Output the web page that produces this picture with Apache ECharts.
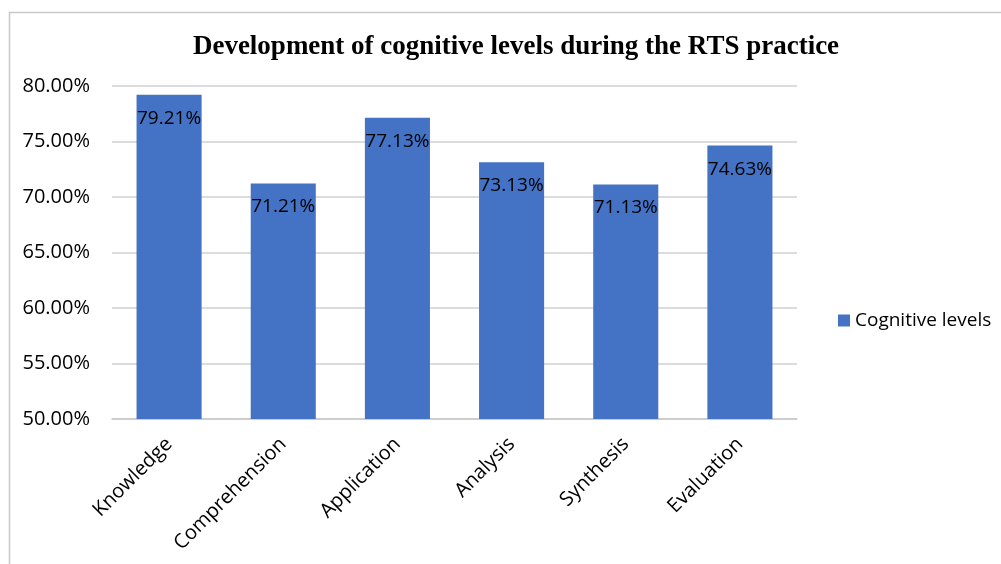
<!DOCTYPE html>
<html>
<head>
<meta charset="utf-8">
<script src="https://cdn.jsdelivr.net/npm/echarts@6/dist/echarts.min.js"></script>
<style>html,body{margin:0;padding:0;background:#fff}#c{width:1001px;height:564px}</style>
</head>
<body>
<div id="c"></div>
<script>
var categories = ['Knowledge', 'Comprehension', 'Application', 'Analysis', 'Synthesis', 'Evaluation'];
var values = [79.21, 71.21, 77.13, 73.13, 71.13, 74.63];
var seriesName = 'Cognitive levels';
var titleText = 'Development of cognitive levels during the RTS practice';

var chart = echarts.init(document.getElementById('c'), null, {renderer: 'canvas'});
var font = '"Open Sans", "Liberation Sans", sans-serif';
chart.setOption({
  animation: false,
  backgroundColor: '#fff',
  graphic: [{
    type: 'rect', shape: {x: 9.5, y: 12.5, width: 1100, height: 700},
    style: {fill: 'none', stroke: '#c8c8c8', lineWidth: 1.5}, silent: true, z: -1
  }],
  title: {
    text: titleText, left: 511, top: 29, textAlign: 'center',
    textStyle: {fontFamily: '"Liberation Serif", "Times New Roman", serif', fontWeight: 'bold', fontSize: 27, color: '#000'}
  },
  legend: {
    data: [seriesName], left: 833, top: 306, itemWidth: 12, itemHeight: 12, itemGap: 6,
    icon: 'rect',
    textStyle: {fontFamily: font, fontSize: 19, color: '#000', padding: [0, 0, 0, 0]}
  },
  grid: {left: 112, right: 204, top: 86, bottom: 145, containLabel: false},
  xAxis: {
    type: 'category', data: categories,
    axisLine: {lineStyle: {color: '#c8c8c8', width: 1.5}},
    axisTick: {show: false},
    axisLabel: {rotate: 45, margin: 22, fontFamily: font, fontSize: 20, color: '#000', interval: 0}
  },
  yAxis: {
    type: 'value', min: 50, max: 80, interval: 5,
    axisLine: {show: false}, axisTick: {show: false},
    splitLine: {lineStyle: {color: '#d0d0d0', width: 1.5}},
    axisLabel: {margin: 22, fontFamily: font, fontSize: 20, color: '#000',
      formatter: function (v) { return v.toFixed(2) + '%'; }}
  },
  series: [{
    name: seriesName, type: 'bar', data: values, barWidth: '57%',
    itemStyle: {color: '#4472C4'},
    label: {show: true, position: 'insideTop', distance: 14, fontFamily: font, fontSize: 19, color: '#000',
      formatter: function (p) { return p.value.toFixed(2) + '%'; }}
  }]
});
</script>
</body>
</html>
